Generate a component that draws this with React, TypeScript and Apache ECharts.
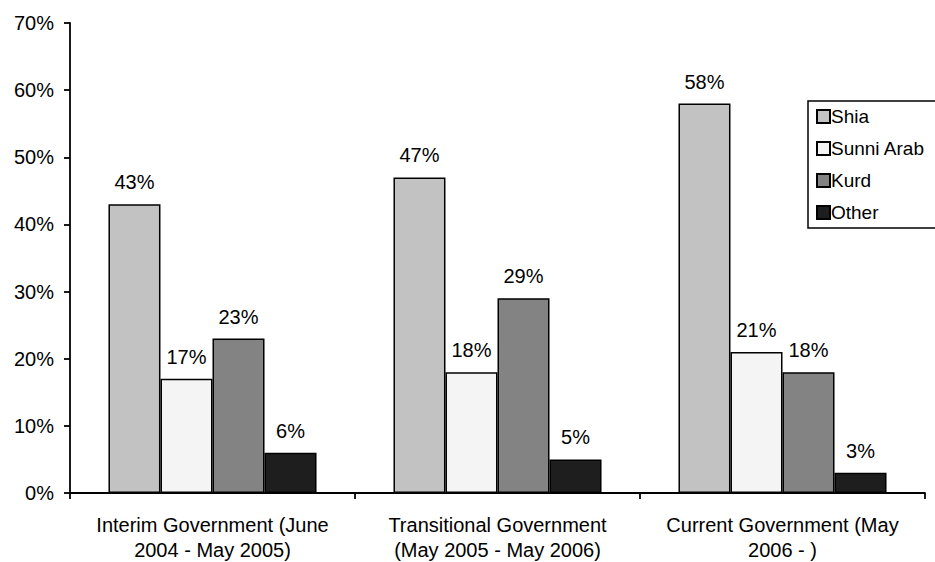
import React, { useEffect, useRef } from "react";
import * as echarts from "echarts";

const categories = [
  "Interim Government (June\n2004 - May 2005)",
  "Transitional Government\n(May 2005 - May 2006)",
  "Current Government (May\n2006 - )",
];
const shia = [43, 47, 58];
const sunniArab = [17, 18, 21];
const kurd = [23, 29, 18];
const other = [6, 5, 3];
const seriesNames = ["Shia", "Sunni Arab", "Kurd", "Other"];
const yTicks = [0, 10, 20, 30, 40, 50, 60, 70];

const FONT = "'Liberation Sans', Arial, sans-serif";

export default function App() {
  const ref = useRef<HTMLDivElement>(null);

  useEffect(() => {
    if (!ref.current) return;
    const chart = echarts.init(ref.current, null, { renderer: "svg" });
    const fills = ["#c2c2c2", "#f4f4f4", "#838383", "#1e1e1e"];
    const values = [shia, sunniArab, kurd, other];

    chart.setOption({
      animation: false,
      backgroundColor: "#ffffff",
      textStyle: { fontFamily: FONT, color: "#000" },
      grid: { left: 70, right: 10, top: 23, bottom: 67, containLabel: false },
      legend: {
        orient: "vertical",
        left: 808,
        top: 101,
        data: seriesNames,
        itemWidth: 13,
        itemHeight: 13,
        itemGap: 13,
        padding: [6, 60, 6, 8],
        borderColor: "#000",
        borderWidth: 1.5,
        backgroundColor: "#fff",
        textStyle: { fontFamily: FONT, fontSize: 19, color: "#000", padding: [0, 0, 0, -4] },
        icon: "rect",
      },
      xAxis: {
        type: "category",
        data: categories,
        axisLine: { lineStyle: { color: "#000", width: 1.8 } },
        axisTick: { show: true, length: 6, lineStyle: { color: "#000", width: 1.8 } },
        axisLabel: {
          fontFamily: FONT,
          fontSize: 20,
          color: "#000",
          lineHeight: 25,
          margin: 19,
          interval: 0,
        },
      },
      yAxis: {
        type: "value",
        min: 0,
        max: 70,
        interval: 10,
        splitLine: { show: false },
        axisLine: { show: true, lineStyle: { color: "#000", width: 1.8 } },
        axisTick: { show: true, length: 6, lineStyle: { color: "#000", width: 1.8 } },
        axisLabel: {
          fontFamily: FONT,
          fontSize: 20,
          color: "#000",
          margin: 16,
          formatter: (v: number) => (yTicks.includes(v) ? `${v}%` : ""),
        },
      },
      series: seriesNames.map((name, i) => ({
        name,
        type: "bar",
        data: values[i],
        barGap: "0%",
        barCategoryGap: "27%",
        itemStyle: { color: fills[i], borderColor: "#000", borderWidth: 1.5 },
        label: {
          show: true,
          position: "top",
          distance: 12,
          fontFamily: FONT,
          fontSize: 20,
          color: "#000",
          formatter: (p: any) => `${p.value}%`,
        },
      })),
    });

    return () => chart.dispose();
  }, []);

  return (
    <div
      ref={ref}
      style={{ position: "absolute", left: 0, top: 0, width: 935, height: 562 }}
    />
  );
}
